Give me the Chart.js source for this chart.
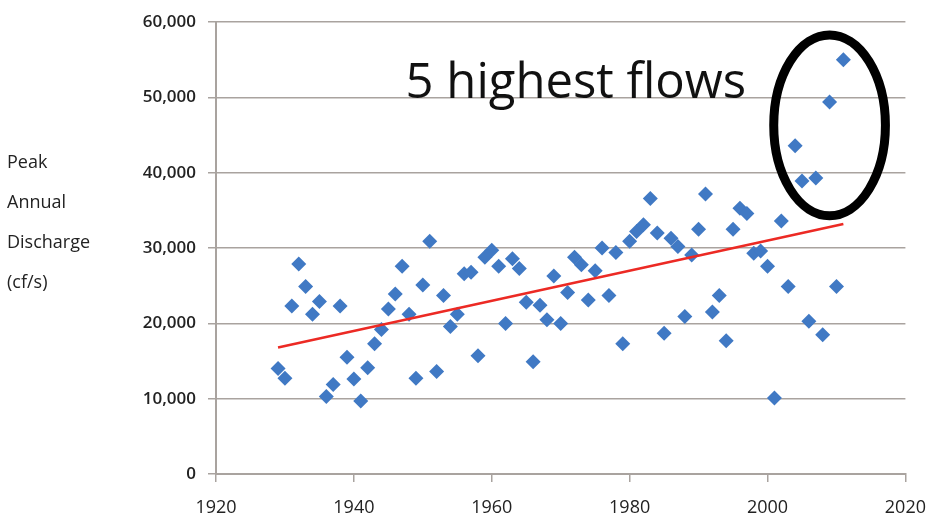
<!DOCTYPE html>
<html>
<head>
<meta charset="utf-8">
<title>Peak Annual Discharge</title>
<script src="https://cdn.jsdelivr.net/npm/chart.js@4.4.1/dist/chart.umd.min.js"></script>
<style>
  html, body { margin: 0; padding: 0; background: #fff; }
  #wrap { width: 941px; height: 527px; position: relative; }
</style>
</head>
<body>
<div id="wrap"><canvas id="chart" width="941" height="527"></canvas></div>
<script>
// years and peak discharge (cf/s)
var years = [
  1929, 1930, 1931, 1932, 1933, 1934, 1935, 1936, 1937, 1938,
  1939, 1940, 1941, 1942, 1943, 1944, 1945, 1946, 1947, 1948,
  1949, 1950, 1951, 1952, 1953, 1954, 1955, 1956, 1957, 1958,
  1959, 1960, 1961, 1962, 1963, 1964, 1965, 1966, 1967, 1968,
  1969, 1970, 1971, 1972, 1973, 1974, 1975, 1976, 1977, 1978,
  1979, 1980, 1981, 1982, 1983, 1984, 1985, 1986, 1987, 1988,
  1989, 1990, 1991, 1992, 1993, 1994, 1995, 1996, 1997, 1998,
  1999, 2000, 2001, 2002, 2003, 2004, 2005, 2006, 2007, 2008,
  2009, 2010, 2011
];
var discharge = [
  14000, 12700, 22300, 27900, 24900, 21200, 22900, 10300, 11900, 22300,
  15500, 12600, 9700, 14100, 17300, 19200, 21900, 23900, 27600, 21200,
  12700, 25100, 30900, 13600, 23700, 19600, 21200, 26600, 26800, 15700,
  28800, 29700, 27600, 20000, 28600, 27300, 22800, 14900, 22400, 20500,
  26300, 20000, 24100, 28800, 27800, 23100, 27000, 30000, 23700, 29400,
  17300, 30900, 32200, 33100, 36600, 32000, 18700, 31300, 30200, 20900,
  29100, 32500, 37200, 21500, 23700, 17700, 32500, 35300, 34600, 29300,
  29600, 27600, 10100, 33600, 24900, 43600, 38900, 20300, 39300, 18500,
  49400, 24900, 55000
];
// trend line end points
var trendYears = [1929, 2011];
var trendValues = [16800, 33200];

var xTicks = [1920, 1940, 1960, 1980, 2000, 2020];
var yTicks = [0, 10000, 20000, 30000, 40000, 50000, 60000];
var axisTitle = ['Peak', 'Annual', 'Discharge', '(cf/s)'];
var noteText = '5 highest flows';

var GRID = '#a9a39f';
var FONT = '"Open Sans", "Noto Sans", sans-serif';

var points = years.map(function (y, i) { return { x: y, y: discharge[i] }; });
var trend = trendYears.map(function (y, i) { return { x: y, y: trendValues[i] }; });

// left title, note text and the ellipse round the top flows
var extras = {
  id: 'extras',
  afterDraw: function (chart) {
    var ctx = chart.ctx, xs = chart.scales.x, ys = chart.scales.y;
    ctx.save();
    ctx.fillStyle = '#222';
    ctx.font = '18px ' + FONT;
    ctx.textBaseline = 'middle';
    ctx.textAlign = 'left';
    axisTitle.forEach(function (t, i) { ctx.fillText(t, 7, 163 + i * 40); });

    ctx.fillStyle = '#111';
    ctx.font = '49px ' + FONT;
    ctx.textAlign = 'center';
    ctx.textBaseline = 'alphabetic';
    ctx.fillText(noteText, xs.getPixelForValue(1972.2), ys.getPixelForValue(49900));

    var cx = xs.getPixelForValue(2009), cy = ys.getPixelForValue(46300);
    var rx = xs.getPixelForValue(2009 + 8.1) - cx;
    var ry = cy - ys.getPixelForValue(46300 + 12000);
    ctx.beginPath();
    ctx.ellipse(cx, cy, rx, ry, 0, 0, Math.PI * 2);
    ctx.lineWidth = 9;
    ctx.strokeStyle = '#000';
    ctx.stroke();
    ctx.restore();
  }
};

new Chart(document.getElementById('chart'), {
  type: 'scatter',
  data: {
    datasets: [
      { label: 'Peak', data: points, pointStyle: 'rectRot', pointRadius: 7.5, pointHoverRadius: 7.5,
        backgroundColor: '#4079c4', borderColor: '#4079c4', borderWidth: 0, order: 2 },
      { label: 'Trend', data: trend, type: 'line', showLine: true, pointRadius: 0,
        borderColor: '#ec2a24', borderWidth: 2.5, fill: false, order: 1 }
    ]
  },
  options: {
    responsive: false,
    animation: false,
    layout: { padding: { top: 20, right: 32, left: 0, bottom: 0 } },
    plugins: { legend: { display: false }, tooltip: { enabled: false } },
    scales: {
      x: {
        type: 'linear', min: 1920, max: 2020,
        afterBuildTicks: function (s) { s.ticks = xTicks.map(function (v) { return { value: v }; }); },
        afterFit: function (s) { s.height = 53; },
        grid: { drawOnChartArea: false, drawTicks: true, tickLength: 8, color: GRID, lineWidth: 1.5 },
        border: { display: true, color: GRID, width: 2 },
        ticks: { color: '#222', padding: 15, font: { family: FONT, size: 18 },
                 callback: function (v) { return String(v); } }
      },
      y: {
        min: 0, max: 60000,
        afterBuildTicks: function (s) { s.ticks = yTicks.map(function (v) { return { value: v }; }); },
        afterFit: function (s) { s.width = 216; },
        grid: { color: GRID, lineWidth: 1.5, tickLength: 8 },
        border: { display: true, color: GRID, width: 2 },
        ticks: { color: '#222', padding: 12, font: { family: FONT, size: 17, weight: '600' },
                 callback: function (v) { return v.toLocaleString('en-US'); } }
      }
    }
  },
  plugins: [extras]
});
</script>
</body>
</html>
